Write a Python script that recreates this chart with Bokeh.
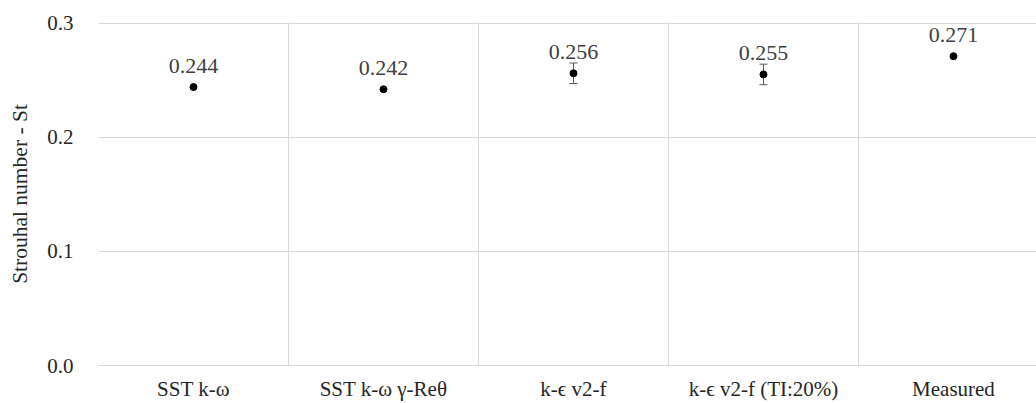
from bokeh.plotting import figure
from bokeh.models import (Range1d, FixedTicker, ColumnDataSource, Whisker, TeeHead,
                          NumeralTickFormatter, LinearAxis, Grid)
from bokeh.core.properties import value
from bokeh.embed import file_html
from bokeh.resources import INLINE

models = ["SST k-\u03c9", "SST k-\u03c9 \u03b3-Re\u03b8", "k-\u03f5 v2-f", "k-\u03f5 v2-f (TI:20%)", "Measured"]
strouhal = [0.244, 0.242, 0.256, 0.255, 0.271]
st_labels = ["0.244", "0.242", "0.256", "0.255", "0.271"]
err_idx = [2, 3]
err_size = [0.009, 0.009]
y_ticks = [0.0, 0.1, 0.2, 0.3]
y_title = "Strouhal number - St"

FONT = "Liberation Serif"
xs = list(range(len(models)))

p = figure(width=1036, height=403, output_backend="svg", toolbar_location=None,
           x_range=Range1d(-0.5, 4.437), y_range=Range1d(0, 0.3005),
           x_axis_type=None, y_axis_type=None,
           min_border_left=98, min_border_right=0, min_border_top=22, min_border_bottom=38)
p.outline_line_color = None
p.background_fill_color = "white"
p.border_fill_color = "white"

xaxis = LinearAxis(
    ticker=FixedTicker(ticks=xs),
    major_label_overrides={i: m for i, m in enumerate(models)},
    axis_line_color="#d9d9d9", major_tick_line_color=None, minor_tick_line_color=None,
    major_label_text_font=FONT, major_label_text_font_size="21px",
    major_label_text_color="#262626", major_label_standoff=5)
p.add_layout(xaxis, "below")

yaxis = LinearAxis(
    ticker=FixedTicker(ticks=y_ticks), formatter=NumeralTickFormatter(format="0.0"),
    axis_line_color=None, major_tick_line_color=None, minor_tick_line_color=None,
    major_label_text_font=FONT, major_label_text_font_size="21px",
    major_label_text_color="#262626", major_label_standoff=19,
    axis_label=y_title, axis_label_text_font=FONT, axis_label_text_font_style="normal",
    axis_label_text_font_size="21.5px", axis_label_text_color="#262626",
    axis_label_standoff=12)
p.add_layout(yaxis, "left")

p.add_layout(Grid(dimension=0, ticker=FixedTicker(ticks=[0.5, 1.5, 2.5, 3.5]),
                  grid_line_color="#d9d9d9"))
p.add_layout(Grid(dimension=1, ticker=yaxis.ticker, grid_line_color="#d9d9d9"))

src = ColumnDataSource(dict(x=xs, y=strouhal, lab=st_labels))

esrc = ColumnDataSource(dict(
    x=[xs[i] for i in err_idx],
    upper=[strouhal[i] + e for i, e in zip(err_idx, err_size)],
    lower=[strouhal[i] - e for i, e in zip(err_idx, err_size)],
))
w = Whisker(source=esrc, base="x", upper="upper", lower="lower", dimension="height",
            line_color="#595959", line_width=1,
            upper_head=TeeHead(size=8, line_color="#595959", line_width=1),
            lower_head=TeeHead(size=8, line_color="#595959", line_width=1))
p.add_layout(w)

p.scatter("x", "y", source=src, size=7, color="black")
p.text("x", "y", text="lab", source=src, text_align="center", text_baseline="alphabetic",
       y_offset=-21, text_font=value(FONT), text_font_size="22px", text_color="#404040")

open("out.html", "w").write(file_html(p, INLINE))
